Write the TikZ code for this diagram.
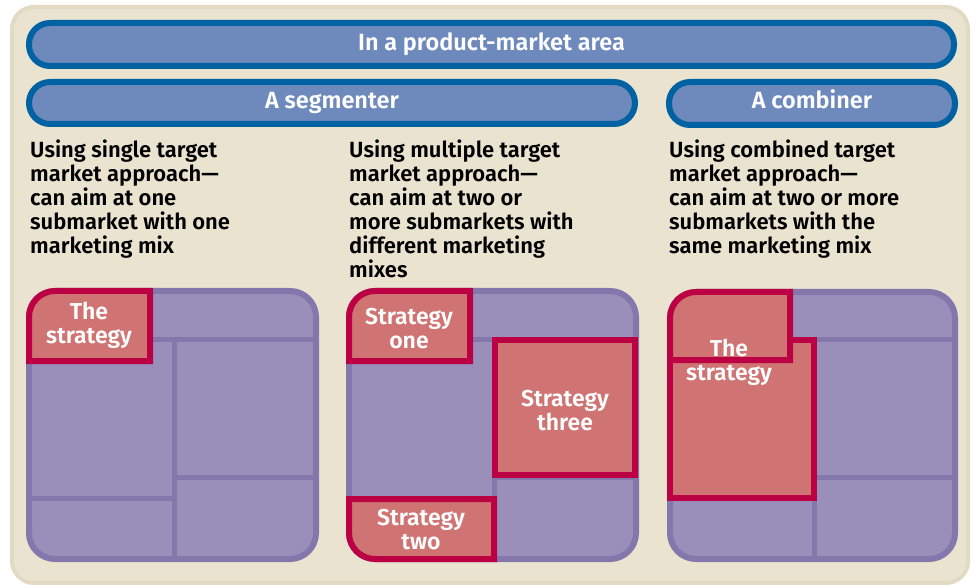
\documentclass[tikz,border=0pt]{standalone}
\usepackage{fontspec}
\setmainfont{Fira Sans}[BoldFont={Fira Sans SemiBold}]
\definecolor{beige}{HTML}{EAE3D0}
\definecolor{beigeedge}{HTML}{E2DAC2}
\definecolor{bluedge}{HTML}{0062A2}
\definecolor{bluefill}{HTML}{6E89BC}
\definecolor{purpedge}{HTML}{8477AC}
\definecolor{purpfill}{HTML}{9A8FBB}
\definecolor{crim}{HTML}{BC0044}
\definecolor{redfill}{HTML}{D07473}
\tikzset{
  bar/.style={draw=bluedge, fill=bluefill, line width=6pt},
  grid/.style={draw=purpedge, fill=purpfill, line width=6pt, rounded corners=26pt},
  gline/.style={draw=purpedge, line width=5pt},
  strat/.style={draw=crim, fill=redfill, line width=6pt},
  bartext/.style={text=white, font=\bfseries\fontsize{23.5}{24}\selectfont, inner sep=0pt, anchor=base},
  desc/.style={text=black, font=\bfseries\fontsize{22}{24}\selectfont, align=left, anchor=north west, inner sep=0pt},
  stext/.style={text=white, font=\bfseries\fontsize{23}{24}\selectfont, align=center, inner sep=0pt},
}
\begin{document}
\begin{tikzpicture}[x=1pt,y=-1pt]
\useasboundingbox (0,0) rectangle (972,585);
\fill[white] (0,0) rectangle (972,585);
\fill[beigeedge, rounded corners=24pt] (10,5) rectangle (970,585);
\fill[beige, rounded corners=20pt] (14,9) rectangle (966,581);
% header bars
\path[bar, rounded corners=21pt] (29,23) rectangle (954,66);
\node[bartext] (area) at (491.5,51) {In a product-market area};
\path[bar, rounded corners=21pt] (29,82) rectangle (635,124);
\node[bartext] (seg) at (332,109) {A segmenter};
\path[bar, rounded corners=21pt] (669,82) rectangle (955,125);
\node[bartext] (comb) at (812,109) {A combiner};
% descriptions
\node[desc] (d1) at (30,140) {Using single target\\market approach—\\can aim at one\\submarket with one\\marketing mix};
\node[desc] (d2) at (349,140) {Using multiple target\\market approach—\\can aim at two or\\more submarkets with\\different marketing\\mixes};
\node[desc] (d3) at (669,140) {Using combined target\\market approach—\\can aim at two or more\\submarkets with the\\same marketing mix};
% grid 1
\path[grid] (29,291) rectangle (316,559);
\draw[gline] (29,340) -- (316,340);
\draw[gline] (174,340) -- (174,559);
\draw[gline] (29,498) -- (174,498);
\draw[gline] (174,477) -- (316,477);
\path[strat] (29,361) [rounded corners=26pt] -- (29,291) [sharp corners] -- (150,291) -- (150,361) -- cycle;
\node[stext] (s1) at (89,325) {The\\strategy};
% grid 2
\path[grid] (349,291) rectangle (636,559);
\draw[gline] (349,340) -- (636,340);
\draw[gline] (494,340) -- (494,559);
\draw[gline] (349,498) -- (494,498);
\draw[gline] (494,477) -- (636,477);
\path[strat] (349,361) [rounded corners=26pt] -- (349,291) [sharp corners] -- (470,291) -- (470,361) -- cycle;
\path[strat] (495,340) rectangle (635,475);
\path[strat] (349,499) [rounded corners=26pt] -- (349,559) [sharp corners] -- (494,559) -- (494,499) -- cycle;
\node[stext] (s21) at (409,329) {Strategy\\one};
\node[stext] (s23) at (565,411) {Strategy\\three};
\node[stext] (s22) at (421,530) {Strategy\\two};
% grid 3
\path[grid] (670,292) rectangle (955,559);
\draw[gline] (670,340) -- (955,340);
\draw[gline] (814,340) -- (814,559);
\draw[gline] (670,498) -- (814,498);
\draw[gline] (814,477) -- (955,477);
\path[strat] (670,340) rectangle (814,498);
\path[strat] (670,360) [rounded corners=26pt] -- (670,292) [sharp corners] -- (790,292) -- (790,360) -- cycle;
\node[stext] (s3) at (729,362) {The\\strategy};
\end{tikzpicture}
\end{document}
